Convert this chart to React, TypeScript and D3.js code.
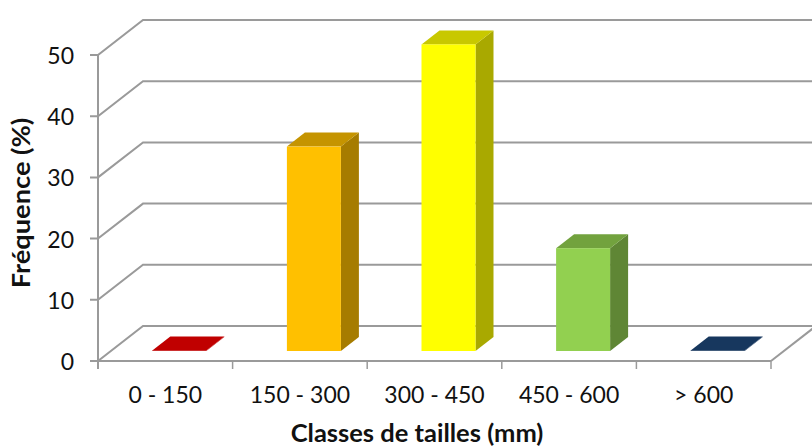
import React from "react";
import * as d3 from "d3";

const categories = ["0 - 150", "150 - 300", "300 - 450", "450 - 600", "> 600"];
const values = [0.1, 33.4, 50.1, 16.8, 0.1];
const yTicks = [0, 10, 20, 30, 40, 50];
const frontColors = ["#c00000", "#ffc000", "#ffff00", "#92d050", "#17375e"];
const topColors = ["#c00000", "#c59400", "#c8c800", "#72a23e", "#17375e"];
const sideColors = ["#c00000", "#a67c00", "#a9a900", "#5f8635", "#17375e"];

const WIDTH = 812;
const HEIGHT = 446;
const GRID = "#9a9a9a";
const FONT = "Lato, 'Open Sans', sans-serif";
const depthX = 45;
const depthY = -35;
const barDepthX = 18;
const barDepthY = -14;

const x = d3.scaleBand<string>().domain(categories).range([98, 771]);
const y = d3.scaleLinear().domain([0, 50]).range([361, 55]);
const line = d3.line<[number, number]>();
const poly = (pts: [number, number][]) => line(pts) + "Z";

export default function App() {
  const barW = 54;
  const floorOffset = 10;
  return (
    <svg width={WIDTH} height={HEIGHT} style={{ position: "absolute", left: 0, top: 0, background: "#fff" }}>
      {yTicks.map((t) => (
        <path key={t} fill="none" stroke={GRID} strokeWidth={2}
          d={line([[90, y(t)], [98, y(t)], [98 + depthX, y(t) + depthY], [WIDTH, y(t) + depthY]]) ?? ""} />
      ))}
      <line x1={98} x2={98} y1={y(50)} y2={369} stroke={GRID} strokeWidth={2} />
      <line x1={98} x2={771} y1={y(0)} y2={y(0)} stroke={GRID} strokeWidth={2} />
      <line x1={771} x2={771 + depthX} y1={y(0)} y2={y(0) + depthY} stroke={GRID} strokeWidth={2} />
      {[...categories.map((c) => x(c) as number), 771].map((tx) => (
        <line key={tx} x1={tx} x2={tx} y1={y(0)} y2={369} stroke={GRID} strokeWidth={1.5} />
      ))}
      {categories.map((c, i) => {
        const x0 = (x(c) as number) + (x.bandwidth() - barW) / 2 + 14;
        const x1 = x0 + barW;
        const yb = y(0) - floorOffset;
        const top = yb - (y(0) - y(values[i]));
        return (
          <g key={c}>
            <path d={poly([[x1, top], [x1 + barDepthX, top + barDepthY], [x1 + barDepthX, yb + barDepthY], [x1, yb]])} fill={sideColors[i]} />
            <path d={poly([[x0, top], [x0 + barDepthX, top + barDepthY], [x1 + barDepthX, top + barDepthY], [x1, top]])} fill={topColors[i]} />
            <rect x={x0} y={top} width={barW} height={yb - top} fill={frontColors[i]} />
          </g>
        );
      })}
      {yTicks.map((t) => (
        <text key={t} x={74} y={y(t) + 9} textAnchor="end" fontFamily={FONT} fontSize={23} fill="#111">{t}</text>
      ))}
      {categories.map((c) => (
        <text key={c} x={(x(c) as number) + x.bandwidth() / 2} y={403} textAnchor="middle" fontFamily={FONT} fontSize={23} fill="#111">{c}</text>
      ))}
      <text x={417} y={442} textAnchor="middle" fontFamily={FONT} fontSize={25.5} fontWeight={700} fill="#111">Classes de tailles (mm)</text>
      <text transform="translate(30,203) rotate(-90) scale(1.09,1)" textAnchor="middle" fontFamily={FONT} fontSize={25} fontWeight={700} fill="#111">Fréquence (%)</text>
    </svg>
  );
}
